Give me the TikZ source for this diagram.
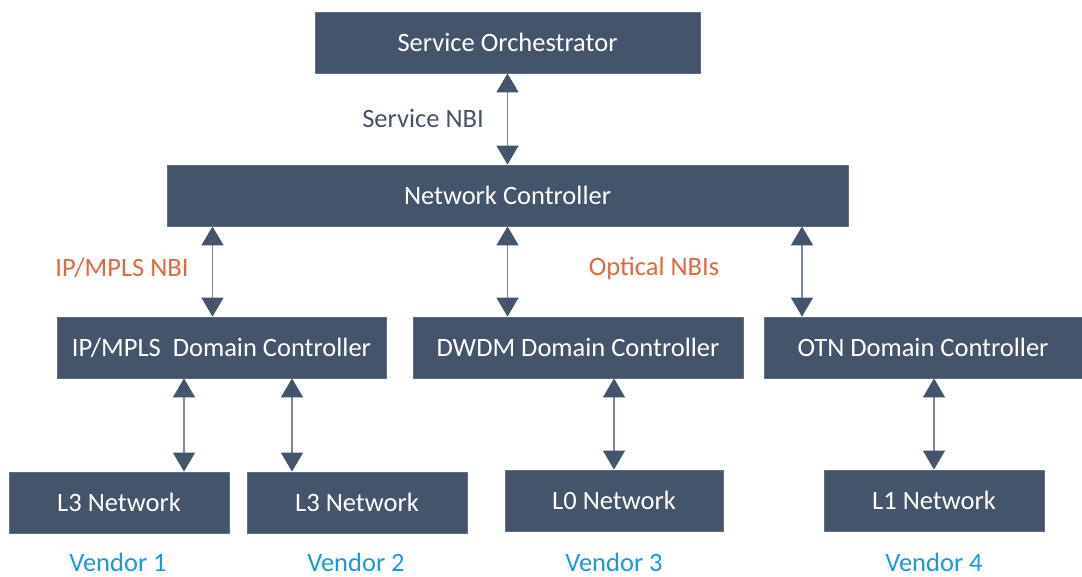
\documentclass[tikz,border=0pt]{standalone}
\usepackage{fontspec}
\setmainfont{Carlito}
\usetikzlibrary{arrows.meta}
\definecolor{boxcol}{HTML}{44546A}
\definecolor{linecol}{HTML}{7A8699}
\definecolor{nbicol}{HTML}{E2673F}
\definecolor{vendcol}{HTML}{1B9AD6}
\tikzset{
  unit/.style={fill=boxcol, draw=boxcol!85!white, line width=0.8pt, text=white,
    inner sep=0pt, font=\fontsize{26.5}{30}\selectfont},
  link/.style={draw=linecol, line width=1.3pt,
    {Triangle[width=22pt,length=19pt,color=boxcol]}-{Triangle[width=22pt,length=19pt,color=boxcol]}},
  nbi/.style={text=nbicol, font=\fontsize{26.5}{30}\selectfont},
  vendor/.style={text=vendcol, inner sep=0pt, anchor=base, font=\fontsize{26.5}{30}\selectfont}
}
\begin{document}
\begin{tikzpicture}[x=1pt, y=-1pt, line join=round]
  \useasboundingbox (0,0) rectangle (1082,576);

  % Controllers
  \node[unit, minimum width=385, minimum height=61] (so) at (507.5,42.5) {Service Orchestrator};
  \node[unit, minimum width=681, minimum height=61] (nc) at (507.5,195.5) {Network Controller};
  \node[unit, minimum width=329, minimum height=61] (ip) at (221.5,347.5) {IP/MPLS~~Domain Controller};
  \node[unit, minimum width=330, minimum height=61] (dwdm) at (578,347.5) {DWDM Domain Controller};
  \node[unit, minimum width=318, minimum height=61] (otn) at (923,347.5) {OTN Domain Controller};

  % Networks
  \node[unit, minimum width=220, minimum height=61] (l3a) at (119,502.5) {L3 Network};
  \node[unit, minimum width=220, minimum height=61] (l3b) at (357,502.5) {L3 Network};
  \node[unit, minimum width=218, minimum height=61] (l0) at (614,500.5) {L0 Network};
  \node[unit, minimum width=220, minimum height=61] (l1) at (934,500.5) {L1 Network};

  % Links
  \draw[link] (so.south) -- (nc.north);
  \draw[link] ([xshift=-9]nc.south -| ip.north) -- ([xshift=-9]ip.north);
  \draw[link] (nc.south) -- (nc.south |- dwdm.north);
  \draw[link] ([xshift=-121]nc.south -| otn.north) -- ([xshift=-121]otn.north);
  \draw[link] ([xshift=65]ip.south -| l3a.north) -- ([xshift=65]l3a.north);
  \draw[link] ([xshift=-65]ip.south -| l3b.north) -- ([xshift=-65]l3b.north);
  \draw[link] (dwdm.south -| l0.north) -- (l0.north);
  \draw[link] (otn.south -| l1.north) -- (l1.north);

  % Labels
  \node[text=boxcol, font=\fontsize{26.5}{30}\selectfont] (snbi) at (423,118) {Service NBI};
  \node[nbi] (ipnbi) at (122,268) {IP/MPLS NBI};
  \node[nbi] (onbi) at (654,268) {Optical NBIs};
  \node[vendor] (v1) at (118,571) {Vendor 1};
  \node[vendor] (v2) at (356,571) {Vendor 2};
  \node[vendor] (v3) at (614,571) {Vendor 3};
  \node[vendor] (v4) at (934,571) {Vendor 4};
\end{tikzpicture}
\end{document}
